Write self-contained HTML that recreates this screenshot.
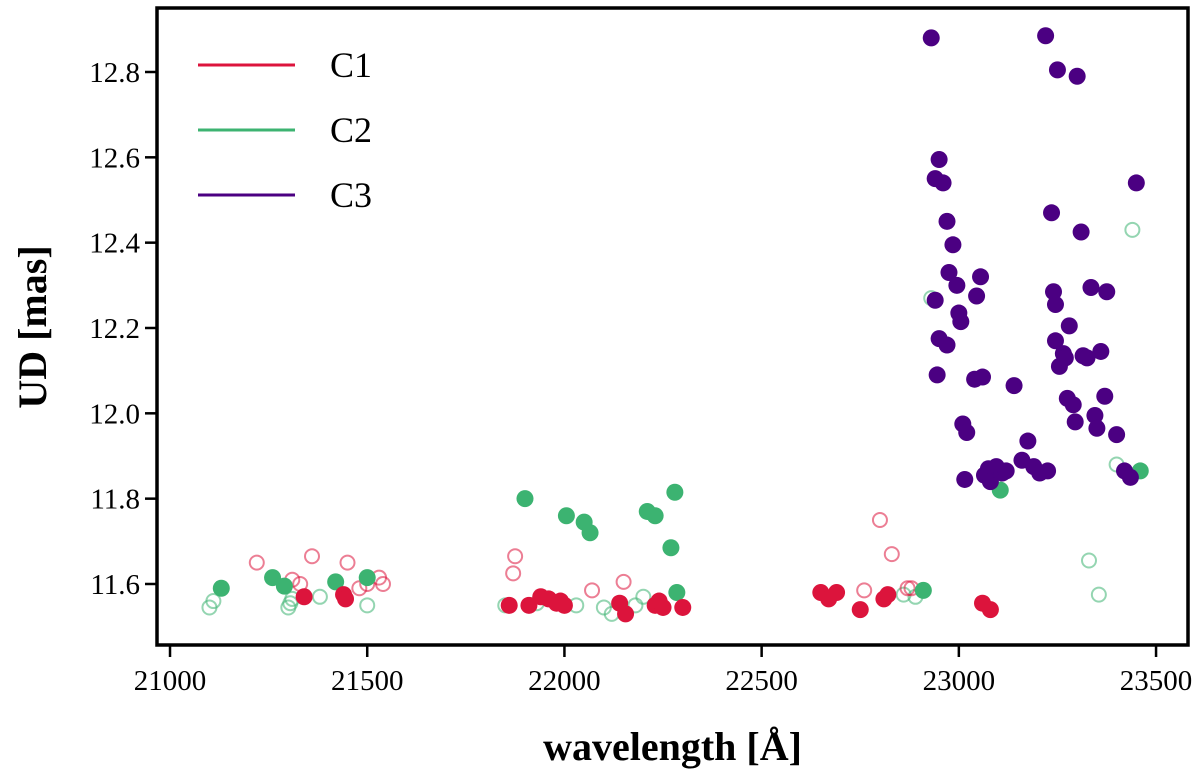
<!DOCTYPE html>
<html><head><meta charset="utf-8"><style>
body{margin:0;background:#fff}
svg{display:block;font-family:"Liberation Serif",serif}
</style></head><body>
<svg id="chart" width="1200" height="778"></svg>
<script>
const c1FilledX=[21340,21440,21445,21860,21910,21940,21960,21980,21990,22000,22140,22155,22230,22240,22250,22300,22650,22670,22690,22750,22810,22820,23060,23080];
const c1FilledY=[11.57,11.575,11.565,11.55,11.55,11.57,11.565,11.555,11.56,11.55,11.555,11.53,11.55,11.56,11.545,11.545,11.58,11.565,11.58,11.54,11.565,11.575,11.555,11.54];
const c1OpenX=[21220,21310,21330,21360,21450,21480,21500,21530,21540,21875,21870,22070,22150,22800,22830,22760,22870,22880];
const c1OpenY=[11.65,11.61,11.60,11.665,11.65,11.59,11.60,11.615,11.60,11.665,11.625,11.585,11.605,11.75,11.67,11.585,11.59,11.59];
const c2FilledX=[21130,21260,21290,21420,21500,21900,22005,22050,22065,22210,22230,22270,22280,22285,22910,23105,23460];
const c2FilledY=[11.59,11.615,11.595,11.605,11.615,11.80,11.76,11.745,11.72,11.77,11.76,11.685,11.815,11.58,11.585,11.82,11.865];
const c2OpenX=[21100,21110,21300,21305,21310,21340,21380,21500,21850,21930,22030,22100,22120,22180,22200,22860,22890,23330,23355,23400,23440,22930];
const c2OpenY=[11.545,11.56,11.545,11.555,11.565,11.57,11.57,11.55,11.55,11.555,11.55,11.545,11.53,11.55,11.57,11.575,11.57,11.655,11.575,11.88,12.43,12.27];
const c3X=[22930,22940,22940,22950,22960,22950,22945,22970,22975,22970,22985,22995,23000,23005,23010,23020,23015,23040,23045,23055,23060,23065,23075,23080,23090,23095,23110,23120,23140,23160,23175,23190,23205,23220,23225,23235,23240,23245,23245,23250,23255,23265,23270,23275,23280,23290,23295,23300,23310,23315,23325,23335,23345,23350,23360,23370,23375,23400,23420,23435,23450];
const c3Y=[12.88,12.265,12.55,12.595,12.54,12.175,12.09,12.45,12.33,12.16,12.395,12.30,12.235,12.215,11.975,11.955,11.845,12.08,12.275,12.32,12.085,11.855,11.87,11.84,11.87,11.875,11.86,11.865,12.065,11.89,11.935,11.875,11.86,12.885,11.865,12.47,12.285,12.255,12.17,12.805,12.11,12.14,12.13,12.035,12.205,12.02,11.98,12.79,12.425,12.135,12.13,12.295,11.995,11.965,12.145,12.04,12.285,11.95,11.865,11.85,12.54];
const xTicks=[21000,21500,22000,22500,23000,23500];
const yTicks=[11.6,11.8,12.0,12.2,12.4,12.6,12.8];
const legendNames=["C1","C2","C3"];
const colors=["#dc143c","#3cb371","#4b0082"];

const L=157,R=1188,T=8,B=645;
const xMin=20967,xMax=23581,yMin=11.457,yMax=12.95;
const sx=v=>L+(v-xMin)/(xMax-xMin)*(R-L);
const sy=v=>B-(v-yMin)/(yMax-yMin)*(B-T);
const svg=document.getElementById('chart');
const NS='http://www.w3.org/2000/svg';
function mk(tag,attrs,parent){const e=document.createElementNS(NS,tag);for(const k in attrs)e.setAttribute(k,attrs[k]);(parent||svg).appendChild(e);return e;}

const pts=mk('g',{});


function series(xs,ys,color,open,name){
  const g=mk('g',{},pts);
  
  
  xs.forEach((x,i)=>{
    const c=mk('circle',open?{cx:sx(x),cy:sy(ys[i]),r:7,fill:'none',stroke:color,'stroke-width':2,'stroke-opacity':0.55}:{cx:sx(x),cy:sy(ys[i]),r:8.5,fill:color},g);
    
    
  });
}
series(c2OpenX,c2OpenY,colors[1],true,'c2-open-series');
series(c1OpenX,c1OpenY,colors[0],true,'c1-open-series');
series(c2FilledX,c2FilledY,colors[1],false,'c2-filled-series');
series(c1FilledX,c1FilledY,colors[0],false,'c1-filled-series');
series(c3X,c3Y,colors[2],false,'c3-series');

const frame=mk('rect',{x:L,y:T,width:R-L,height:B-T,fill:'none',stroke:'#000','stroke-width':3.5});



xTicks.forEach(t=>{
  const x=sx(t);
  const l=mk('line',{x1:x,x2:x,y1:B,y2:B+12,stroke:'#000','stroke-width':2.5});
  
  
  const tx=mk('text',{x:x,y:B+45,'text-anchor':'middle','font-size':29});
  tx.textContent=t;
  
  
});
yTicks.forEach(t=>{
  const y=sy(t);
  const l=mk('line',{x1:L-12,x2:L,y1:y,y2:y,stroke:'#000','stroke-width':2.5});
  
  
  const tx=mk('text',{x:L-17,y:y+10,'text-anchor':'end','font-size':29});
  tx.textContent=t.toFixed(1);
  
  
});
const xl=mk('text',{x:(L+R)/2,y:760,'text-anchor':'middle','font-size':40,'font-weight':'bold'});
xl.textContent='wavelength [Å]';


const yl=mk('text',{x:0,y:0,'text-anchor':'middle','font-size':40,'font-weight':'bold',transform:'translate(46,327) rotate(-90)'});
yl.textContent='UD [mas]';



const lg=mk('g',{});


legendNames.forEach((n,i)=>{
  const y=65+i*65;
  const g=mk('g',{},lg);
  
  
  mk('line',{x1:198,x2:295,y1:y,y2:y,stroke:colors[i],'stroke-width':3},g);
  const t=mk('text',{x:330,y:y+12,'font-size':36},g);
  t.textContent=n;
});
</script>
</body></html>
